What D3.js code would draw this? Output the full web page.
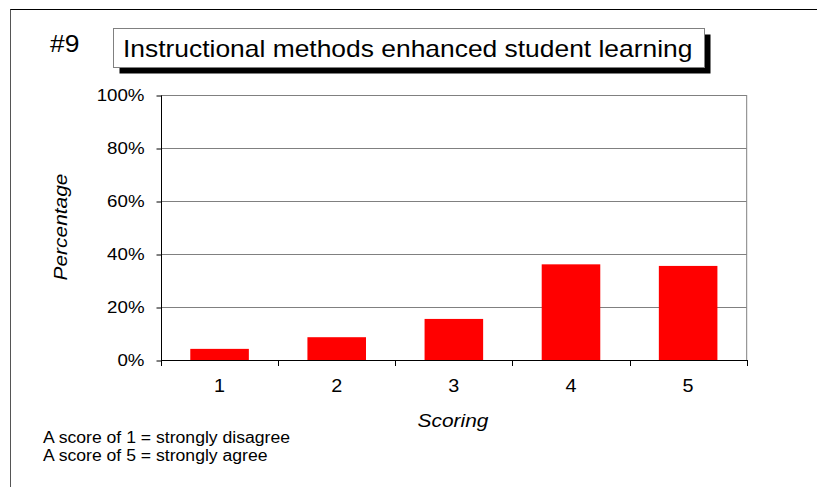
<!DOCTYPE html>
<html>
<head>
<meta charset="utf-8">
<script src="https://cdn.jsdelivr.net/npm/d3@7"></script>
<style>
  body { margin: 0; background: #fff; }
  svg { display: block; font-family: "Liberation Sans", Arial, sans-serif; }
</style>
</head>
<body>
<svg id="chart" width="817" height="487"></svg>
<script>
// data
var scores = ["1", "2", "3", "4", "5"];
var percents = [4.2, 8.6, 15.5, 36.1, 35.5];
var yTicks = [0, 20, 40, 60, 80, 100];
var notes = ["A score of 1 = strongly disagree", "A score of 5 = strongly agree"];

var STRETCH = 1.1; // source image is a bit wide

var svg = d3.select("#chart");

var plot = {left: 161, right: 746.7, top: 95, bottom: 360};

var x = d3.scaleBand()
    .domain(scores)
    .range([plot.left, plot.right])
    .paddingInner(0.5)
    .paddingOuter(0.25);

var y = d3.scaleLinear()
    .domain([0, 100])
    .range([plot.bottom, plot.top]);

function widen(sel) {
    sel.each(function() {
        var len = this.getComputedTextLength();
        this.setAttribute("textLength", len * STRETCH);
        this.setAttribute("lengthAdjust", "spacingAndGlyphs");
    });
}

// outer frame
svg.append("line")
    .attr("x1", 10).attr("y1", 9.5).attr("x2", 817).attr("y2", 9.5)
    .attr("stroke", "#000").attr("stroke-width", 1);
svg.append("line")
    .attr("x1", 10.5).attr("y1", 9.5).attr("x2", 10.5).attr("y2", 487)
    .attr("stroke", "#555").attr("stroke-width", 1);

// title
svg.append("text")
    .attr("x", 50).attr("y", 52)
    .attr("font-size", 24)
    .text("#9")
    .call(widen);

svg.append("rect")
    .attr("x", 119.5).attr("y", 34.5).attr("width", 591).attr("height", 39)
    .attr("fill", "#000");
svg.append("rect")
    .attr("x", 113.5).attr("y", 28.5).attr("width", 591).attr("height", 39)
    .attr("fill", "#fff").attr("stroke", "#808080");

svg.append("text")
    .attr("x", 123).attr("y", 57)
    .attr("font-size", 24)
    .text("Instructional methods enhanced student learning")
    .call(widen);

// gridlines
svg.append("g")
    .selectAll("line")
    .data(yTicks.filter(function(d) { return d > 0; }))
    .enter()
    .append("line")
    .attr("x1", plot.left).attr("x2", plot.right)
    .attr("y1", function(d) { return Math.round(y(d)) + 0.5; })
    .attr("y2", function(d) { return Math.round(y(d)) + 0.5; })
    .attr("stroke", "#808080");

// right border
svg.append("line")
    .attr("x1", plot.right).attr("x2", plot.right)
    .attr("y1", plot.top).attr("y2", plot.bottom)
    .attr("stroke", "#808080");

// bars
svg.append("g")
    .selectAll("rect")
    .data(percents)
    .enter()
    .append("rect")
    .attr("x", function(d, i) { return x(scores[i]); })
    .attr("width", x.bandwidth())
    .attr("y", function(d) { return y(d); })
    .attr("height", function(d) { return y(0) - y(d); })
    .attr("fill", "#ff0000");

// y axis
var yAxis = svg.append("g")
    .attr("transform", "translate(" + (plot.left + 0.5) + ",0.5)")
    .call(d3.axisLeft(y).tickValues(yTicks).tickSize(5).tickPadding(12)
        .tickFormat(function(d) { return d + "%"; }));
yAxis.select(".domain").attr("stroke", "#000").attr("d", "M0," + plot.top + "V" + plot.bottom);
yAxis.selectAll(".tick line").attr("stroke", "#000");
yAxis.selectAll("text")
    .attr("font-family", null)
    .attr("font-size", 17)
    .attr("fill", "#000")
    .call(widen);

// x axis, ticks on band edges
var edges = scores.map(function(s) { return x(s) - x.step() * 0.25; }).concat([plot.right]);
svg.append("line")
    .attr("x1", plot.left).attr("x2", plot.right + 0.5)
    .attr("y1", plot.bottom + 0.5).attr("y2", plot.bottom + 0.5)
    .attr("stroke", "#000");
svg.append("g")
    .selectAll("line")
    .data(edges)
    .enter()
    .append("line")
    .attr("x1", function(d) { return Math.round(d) + 0.5; })
    .attr("x2", function(d) { return Math.round(d) + 0.5; })
    .attr("y1", plot.bottom).attr("y2", plot.bottom + 6)
    .attr("stroke", "#000");

svg.append("g")
    .selectAll("text")
    .data(scores)
    .enter()
    .append("text")
    .attr("x", function(d) { return x(d) + x.bandwidth() / 2; })
    .attr("y", 392)
    .attr("text-anchor", "middle")
    .attr("font-size", 18)
    .text(function(d) { return d; })
    .call(widen);

// axis titles
svg.append("text")
    .attr("x", 453).attr("y", 427)
    .attr("text-anchor", "middle")
    .attr("font-size", 19)
    .attr("font-style", "italic")
    .text("Scoring")
    .call(widen);

svg.append("text")
    .attr("transform", "translate(67,227) rotate(-90)")
    .attr("text-anchor", "middle")
    .attr("font-size", 19)
    .attr("font-style", "italic")
    .text("Percentage")
    .call(widen);

// footnote
svg.append("g")
    .selectAll("text")
    .data(notes)
    .enter()
    .append("text")
    .attr("x", 43)
    .attr("y", function(d, i) { return 443 + i * 17.5; })
    .attr("font-size", 16)
    .text(function(d) { return d; })
    .call(widen);
</script>
</body>
</html>
